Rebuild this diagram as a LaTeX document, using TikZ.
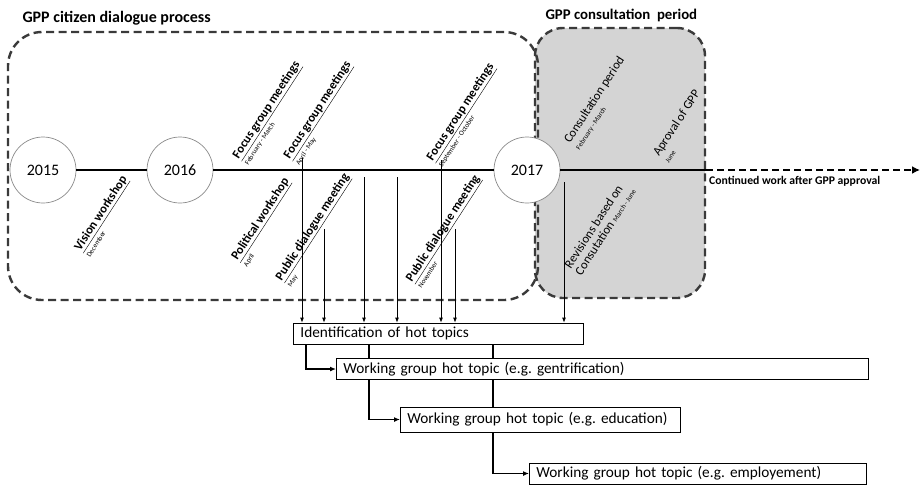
\documentclass[tikz,border=0pt]{standalone}
\usepackage{fontspec}
\setmainfont{Carlito}
\usetikzlibrary{arrows.meta, positioning, backgrounds}
\definecolor{consultfill}{HTML}{D4D4D4}
\definecolor{framecol}{HTML}{3A3A3A}
\definecolor{ringcol}{HTML}{8A8A8A}
\newcommand{\evtlbl}[2]{\underline{\textbf{#1}}\\[-1pt]{\fontsize{7}{7}\selectfont #2}}
\frenchspacing

\begin{document}
\begin{tikzpicture}[
    x=1pt, y=-1pt,
    >=Latex,
    frame/.style={draw=framecol, dash pattern=on 8pt off 4.5pt, line width=2.4pt,
        rounded corners=34pt, inner sep=0pt},
    heading/.style={font=\fontsize{16}{18}\selectfont\bfseries, anchor=west},
    year/.style={circle, draw=ringcol, fill=white, minimum size=66pt, inner sep=0pt,
        line width=0.7pt, font=\fontsize{16}{18}\selectfont},
    timeline/.style={line width=2.6pt},
    evt/.style={rotate=57, align=left, inner sep=0pt, font=\fontsize{12.5}{12.5}\selectfont},
    feed/.style={-{Latex[length=5pt,width=4pt]}, line width=0.8pt},
    flow/.style={-{Latex[length=6pt,width=5pt]}, line width=1.8pt},
    topic/.style={draw, fill=white, line width=0.8pt, anchor=west, minimum height=21pt,
        inner xsep=7pt, inner ysep=0pt, align=left, font=\fontsize{15.3}{17}\selectfont},
]
\useasboundingbox (0,0) rectangle (923,485);

% ============================================================
%  Frames and headings
% ============================================================
\node[frame, fill=consultfill, rounded corners=28pt, minimum width=170pt, minimum height=270pt]
    (consult) at (620,163) {};
\node[frame, minimum width=530pt, minimum height=268pt] (dialogue) at (273,166) {};

\node[heading] (dialogueT) at (19,18) {GPP citizen dialogue process};
\node[heading, font=\fontsize{14.8}{17}\selectfont\bfseries] (consultT) at (542,15) {GPP consultation\ \ period};

% ============================================================
%  Timeline
% ============================================================
\node[year] (y2015) at (43,170) {2015};
\node[year] (y2016) at (180,170) {2016};
\node[year] (y2017) at (527,170) {2017};

\draw[timeline] (y2015) -- (y2016);
\draw[timeline] (y2016) -- (y2017);
\coordinate (approvalEnd) at (consult.east |- y2017.east);
\coordinate (futureEnd) at (920,170);
\draw[timeline] (y2017) -- (approvalEnd);
\draw[timeline, dash pattern=on 7pt off 4pt, -{Latex[length=8pt,width=8pt]}] (approvalEnd) -- (futureEnd);
\node[font=\fontsize{11.7}{13}\selectfont\bfseries, anchor=north west, inner sep=1pt]
    (futureT) at (708,175) {Continued work after GPP approval};

% --- events along the timeline ---
\node[evt] (vision) at (105,216) {\evtlbl{Vision workshop}{December}};
\node[evt] (focusA) at (271,113) {\evtlbl{Focus group meetings}{February - March}};
\node[evt] (focusB) at (322,113) {\evtlbl{Focus group meetings}{April - May}};
\node[evt] (political) at (265,222) {\evtlbl{Political workshop}{April}};
\node[evt] (publicA) at (317,230) {\evtlbl{Public dialogue meeting}{May}};
\node[evt] (focusC) at (465,115) {\evtlbl{Focus group meetings}{September - October}};
\node[evt] (publicB) at (447,231) {\evtlbl{Public dialogue meeting}{November}};

\node[evt] (consultP) at (599,103) {Consultation period\\[-1pt]{\fontsize{7}{7}\selectfont February - March}};
\node[evt] (approval) at (681,126) {Aproval of GPP\\[-1pt]{\fontsize{7}{7}\selectfont June}};
\node[evt] (revisions) at (600,228) {Revisions based on\\Consutation {\fontsize{7}{7}\selectfont March - June}};

% ============================================================
%  Hot topics
% ============================================================
\node[topic, text width=276pt] (idtopics) at (293,333.5) {Identification of hot topics};
\node[topic, text width=518pt] (wgGent) at (336,369) {Working group hot topic (e.g. gentrification)};
\node[topic, text width=266pt, minimum height=25pt] (wgEdu) at (400,419.5) {Working group hot topic (e.g. education)};
\node[topic, text width=323pt] (wgEmp) at (529,473.5) {Working group hot topic (e.g. employement)};

\foreach \n/\xs/\ys in {1/302/158, 2/324/229, 3/364/177, 4/397/177, 5/441/160, 6/455/229, 7/564/182} {
    \coordinate (src\n) at (\xs,\ys);
    \draw[feed] (src\n) -- (src\n |- idtopics.north);
}

\begin{scope}[on background layer]
\draw[flow] ([xshift=13pt]idtopics.south west) |- (wgGent.west);
\draw[flow] ([xshift=76pt]idtopics.south west) |- (wgEdu.west);
\draw[flow] ([xshift=200pt]idtopics.south west) |- (wgEmp.west);
\end{scope}

\end{tikzpicture}
\end{document}
